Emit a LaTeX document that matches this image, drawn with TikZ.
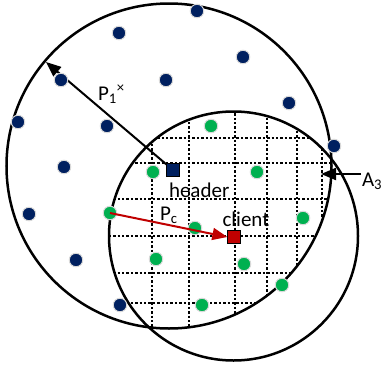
\documentclass[tikz,border=0pt]{standalone}
\usepackage{fontspec}
\setmainfont{Carlito}
\usetikzlibrary{arrows.meta}
\definecolor{cnavy}{HTML}{002060}
\definecolor{cgreen}{HTML}{00B050}
\definecolor{cred}{HTML}{C00000}
\tikzset{
  every picture/.style={font=\fontsize{21}{24}\selectfont, line width=2pt},
  ring/.style={draw=black, line width=2.5pt},
  dot/.style={circle, fill=#1, draw=black!15, line width=1pt, minimum size=13.5pt, inner sep=0pt},
  dot/.default=cnavy,
  sq/.style={rectangle, fill=#1, draw=black, line width=0.8pt, minimum size=12.5pt, inner sep=0pt},
  cell/.style={draw=black, line width=1.1pt, dash pattern=on 2.4pt off 2pt},
  arr/.style={-{Triangle[length=15pt, width=12pt]}, line width=2pt},
  lbl/.style={inner sep=0pt, anchor=base west},
}

\begin{document}
\begin{tikzpicture}[x=1pt, y=-1pt]
  \useasboundingbox (0,0) rectangle (383,367);
  % ---- the two ranges ----
  \draw[ring] (169,166) circle [radius=162.5pt];
  \draw[ring] (233.5,236) circle [radius=124.5pt];
  % ---- cells in the overlap ----
  \begin{scope}
    \clip (169,166) circle [radius=162.5pt];
    \clip (233.5,236) circle [radius=124.5pt];
    \foreach \x in {152,189,235,267,297,322}
      \draw[cell] (\x,100) -- (\x,367);
    \foreach \y in {138,163,199,236,273,303}
      \draw[cell] (100,\y) -- (383,\y);
  \end{scope}
  % ---- header range ----
  \node[sq=cnavy] (header) at (173,170) {};
  \coordinate (rim) at (46,62);
  \draw[arr] (header.center) -- (rim);
  \foreach \p [count=\i] in {(197,11), (119,33), (243,57), (61,80), (166,80), (289,103),
      (18,122), (107,126), (334,146), (64,167), (29,214), (76,260), (120,305)}
    \node[dot] (b\i) at \p {};
  \foreach \p [count=\i] in {(211,126), (153,172), (257,172), (110,213), (303,218),
      (195,228), (156,259), (244,264), (282,285), (202,305)}
    \node[dot=cgreen] (g\i) at \p {};
  \node[sq=cnavy] at (header) {};
  % ---- client ----
  \node[sq=cred] (client) at (234,237) {};
  \draw[arr, draw=cred] (g4.center) -- (client.west);
  % ---- labels ----
  \node[lbl] (hdrtxt) at (168,197) {header};
  \node[lbl] (clitxt) at (221.5,226) {client};
  \node[lbl] (pc) at (159,220) {P\textsubscript{c}};
  \node[lbl] (p1) at (97,100) {P\textsubscript{1}\textsuperscript{×}};
  \node[lbl] (a3) at (361,186) {A\textsubscript{3}};
  \coordinate (lens) at (321,174);
  \draw[arr] (a3.west |- lens) -- (lens);
\end{tikzpicture}
\end{document}
